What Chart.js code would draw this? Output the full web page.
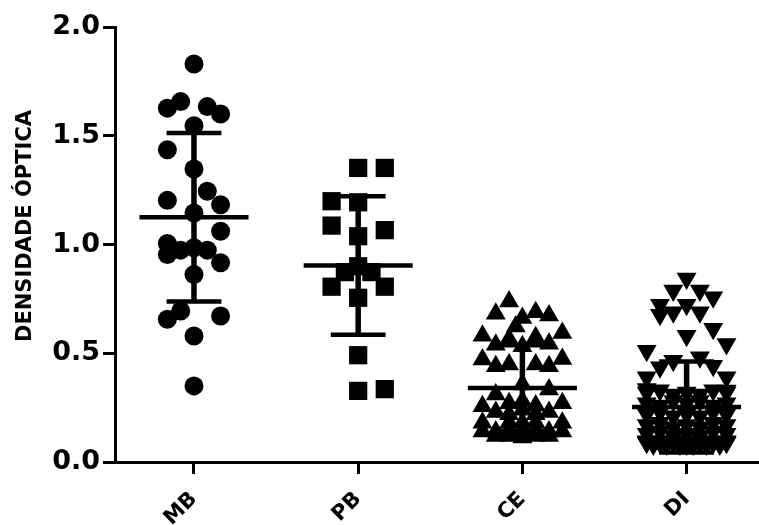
<!DOCTYPE html>
<html>
<head>
<meta charset="utf-8">
<title>Densidade óptica por grupo</title>
<script src="https://cdn.jsdelivr.net/npm/chart.js@4/dist/chart.umd.min.js"></script>
<style>
  html, body { margin: 0; padding: 0; background: #fff; }
  #wrap { width: 759px; height: 525px; position: relative; }
</style>
</head>
<body>
<div id="wrap"><canvas id="c"></canvas></div>
<script>
// Groups on the x axis and the y axis ticks
const groups = ['MB', 'PB', 'CE', 'DI'];
const yTicks = [0, 0.5, 1.0, 1.5, 2.0];
const yTitle = 'DENSIDADE ÓPTICA';

// Optical density of each sample, per group
const mbValues = [1.830, 1.657, 1.627, 1.634, 1.600, 1.546, 1.436, 1.347, 1.245, 1.203,
                  1.183, 1.145, 1.061, 1.005, 0.974, 0.954, 0.985, 0.974, 0.916, 0.862,
                  0.694, 0.656, 0.671, 0.579, 0.350];
const pbValues = [1.352, 1.352, 1.199, 1.194, 1.087, 1.038, 1.066, 0.900, 0.873, 0.873,
                  0.806, 0.806, 0.755, 0.491, 0.327, 0.335];
const ceValues = [0.738, 0.682, 0.688, 0.673, 0.662, 0.623, 0.581, 0.593, 0.565, 0.574,
                  0.539, 0.544, 0.532, 0.471, 0.473, 0.440, 0.448, 0.448, 0.440,
                  0.310, 0.356, 0.333,
                  0.256, 0.270, 0.260, 0.270, 0.280,
                  0.230, 0.240, 0.230, 0.220, 0.220,
                  0.180, 0.180, 0.180, 0.180, 0.180,
                  0.140, 0.140, 0.140, 0.140, 0.140, 0.140, 0.140,
                  0.113, 0.120, 0.120, 0.120, 0.120];
const diValues = [0.844, 0.788, 0.788, 0.757, 0.723, 0.723, 0.677, 0.688, 0.688, 0.613,
                  0.581, 0.543, 0.512, 0.466, 0.482, 0.436, 0.443, 0.390, 0.390, 0.336,
                  0.329,
                  0.32, 0.33, 0.31, 0.32, 0.31, 0.33, 0.32,
                  0.27, 0.26, 0.28, 0.27, 0.28, 0.26, 0.27,
                  0.22, 0.23, 0.21, 0.22, 0.21, 0.23, 0.22,
                  0.17, 0.18, 0.16, 0.17, 0.16, 0.18, 0.17,
                  0.13, 0.14, 0.12, 0.13, 0.12, 0.14, 0.13,
                  0.095, 0.095, 0.095, 0.095, 0.095, 0.095, 0.095,
                  0.085, 0.085, 0.085, 0.085, 0.085, 0.085, 0.085,
                  0.090, 0.090, 0.090, 0.090, 0.090, 0.090, 0.090,
                  0.080, 0.080, 0.080, 0.080, 0.080, 0.080, 0.080,
                  0.090, 0.090, 0.090, 0.090, 0.090, 0.090, 0.090];

// Horizontal spread slot of each dot inside its column (scatter dot plot layout)
const mbSlots = [0, -1, -2, 1, 2, 0, -2, 0, 1, -2, 2, 0, 2, -2, -1, -2, 0, 1, 2, 0, -1, -2, 2, 0, 0];
const pbSlots = [0, 2, -2, 0, -2, 0, 2, 0, -1, 1, -2, 2, 0, 0, 0, 2];
const ceSlots = [-1, -2, 1, 2, 0, -0.5, -3, 3, -1, 1, -2, 2, 0, -3, 3, -2, -1, 1, 2,
                 -2, 0, 2,
                 -3, -1, 1, 3, 0,
                 -2, 0, 2, -1, 1,
                 -3, -1, 0, 1, 3,
                 -3, -2, -1, 0, 1, 2, 3,
                 0, -2, -1, 1, 2];
const diSlots = [0, -1, 1, 2, -2, 0, -2, -1, 1, 2, 0, 3, -3, -1, 1, -2, 2, -3, 3, -3, 3,
                 -3, -2, -1, 0, 1, 2, 3,
                 -3, -2, -1, 0, 1, 2, 3,
                 -3, -2, -1, 0, 1, 2, 3,
                 -3, -2, -1, 0, 1, 2, 3,
                 -3, -2, -1, 0, 1, 2, 3,
                 -3, -2, -1, 0, 1, 2, 3,
                 -2.5, -1.5, -0.5, 0.5, 1.5, 2.5, 0,
                 -3, -2, -1, 0, 1, 2, 3,
                 -2.5, -1.5, -0.5, 0.5, 1.5, 2.5, 0,
                 -3, -2, -1, 0, 1, 2, 3];

const SLOT_STEP = 0.081;     // dot spacing, in category units
const MEAN_HALF = 0.332;     // half length of the mean bar
const CAP_HALF = 0.167;      // half length of the SD caps

const series = [
  { values: mbValues, slots: mbSlots, style: 'circle',   radius: 9.5,  rotation: 0 },
  { values: pbValues, slots: pbSlots, style: 'rect',     radius: 12.9, rotation: 0 },
  { values: ceValues, slots: ceSlots, style: 'triangle', radius: 11.5, rotation: 0 },
  { values: diValues, slots: diSlots, style: 'triangle', radius: 11.5, rotation: 180 }
];

function mean(a) { return a.reduce((s, v) => s + v, 0) / a.length; }
function sd(a) {
  const m = mean(a);
  return Math.sqrt(a.reduce((s, v) => s + (v - m) * (v - m), 0) / (a.length - 1));
}

// Mean bar and mean ± SD whiskers of every group
const GAP = { x: null, y: null };
const hLines = [];
const vLines = [];
series.forEach((s, i) => {
  const cx = i + 1, m = mean(s.values), d = sd(s.values);
  hLines.push({ x: cx - MEAN_HALF, y: m }, { x: cx + MEAN_HALF, y: m }, GAP,
              { x: cx - CAP_HALF, y: m + d }, { x: cx + CAP_HALF, y: m + d }, GAP,
              { x: cx - CAP_HALF, y: m - d }, { x: cx + CAP_HALF, y: m - d }, GAP);
  vLines.push({ x: cx, y: m - d }, { x: cx, y: m + d }, GAP);
});

const pointSets = series.map((s, i) => ({
  label: groups[i],
  data: s.values.map((v, k) => ({ x: i + 1 + s.slots[k] * SLOT_STEP, y: v })),
  pointStyle: s.style,
  pointRadius: s.radius,
  pointHoverRadius: s.radius,
  pointRotation: s.rotation,
  pointBackgroundColor: '#000',
  pointBorderWidth: 0,
  showLine: false,
  order: 2
}));

const lineStyle = {
  showLine: true, pointRadius: 0, pointHoverRadius: 0, borderColor: '#000',
  borderCapStyle: 'butt', spanGaps: false, tension: 0, order: 1
};

const axisGrid = {
  drawOnChartArea: false, drawTicks: true, tickLength: 12, tickWidth: 3,
  tickColor: '#000', color: '#000'
};
const axisBorder = { display: true, color: '#000', width: 3 };

// Rotated y axis title
const yTitlePlugin = {
  id: 'yTitle',
  afterDraw(chart) {
    const ctx = chart.ctx;
    ctx.save();
    ctx.font = 'bold 21px "DejaVu Sans"';
    ctx.fillStyle = '#000';
    ctx.textAlign = 'center';
    ctx.textBaseline = 'alphabetic';
    ctx.translate(31, 226);
    ctx.rotate(-Math.PI / 2);
    ctx.fillText(yTitle, 0, 0);
    ctx.restore();
  }
};

new Chart(document.getElementById('c'), {
  type: 'scatter',
  data: {
    datasets: [
      ...pointSets,
      { label: 'mean', data: hLines, borderWidth: 4.5, ...lineStyle },
      { label: 'sd', data: vLines, borderWidth: 5.5, ...lineStyle }
    ]
  },
  options: {
    responsive: true,
    maintainAspectRatio: false,
    animation: false,
    devicePixelRatio: 1,
    layout: { autoPadding: false, padding: { top: 27, right: 0, bottom: 0, left: 0 } },
    plugins: { legend: { display: false }, tooltip: { enabled: false } },
    scales: {
      x: {
        type: 'linear',
        min: 0.519,
        max: 4.441,
        afterBuildTicks: s => { s.ticks = groups.map((g, i) => ({ value: i + 1 })); },
        afterFit: s => { s.height = 63; s.paddingLeft = 0; s.paddingRight = 0; },
        ticks: {
          callback: v => groups[v - 1] ?? '',
          font: { family: 'DejaVu Sans', weight: 'bold', size: 21 },
          color: '#000',
          minRotation: 45,
          maxRotation: 45,
          autoSkip: false,
          padding: 13
        },
        grid: axisGrid,
        border: axisBorder
      },
      y: {
        type: 'linear',
        min: 0,
        max: 2,
        afterBuildTicks: s => { s.ticks = yTicks.map(v => ({ value: v })); },
        afterFit: s => { s.width = 115; s.paddingTop = 0; s.paddingBottom = 0; },
        ticks: {
          callback: v => v.toFixed(1),
          font: { family: 'DejaVu Sans', weight: 'bold', size: 27 },
          color: '#000',
          padding: 3
        },
        grid: axisGrid,
        border: axisBorder
      }
    }
  },
  plugins: [yTitlePlugin]
});
</script>
</body>
</html>
